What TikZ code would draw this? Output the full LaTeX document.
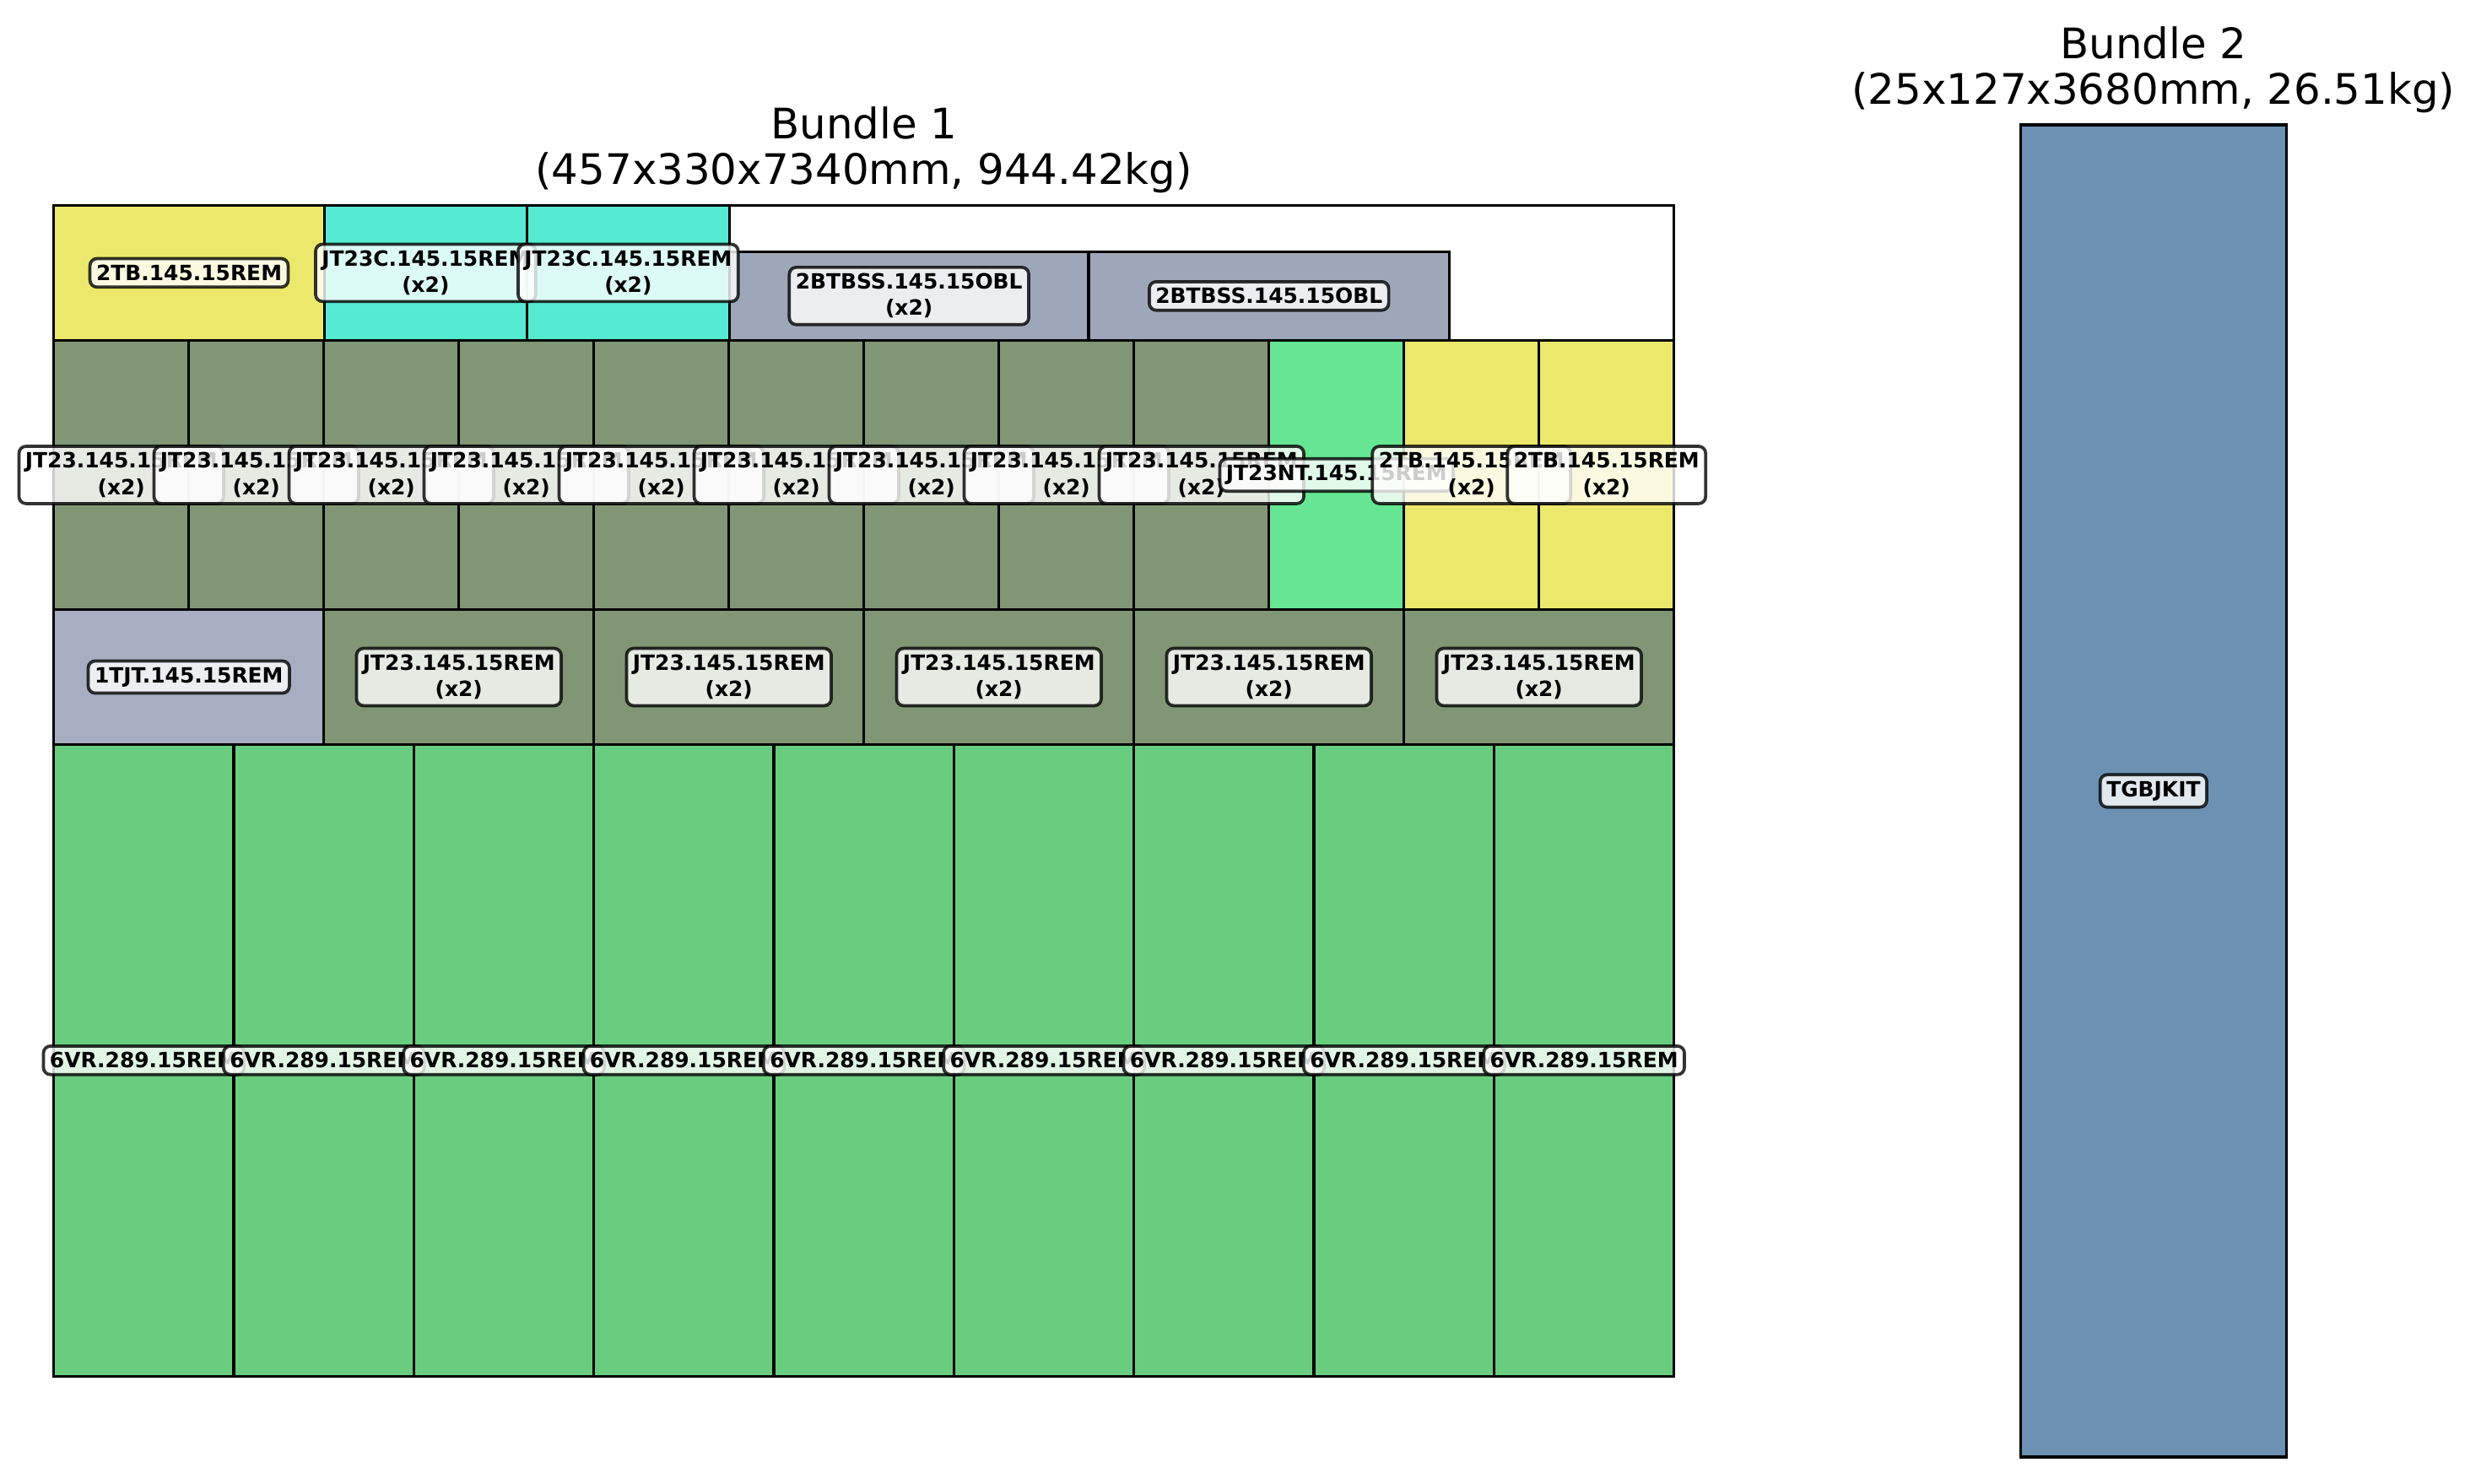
\documentclass[tikz,border=0pt]{standalone}
\usepackage{fontspec}
\setmainfont{DejaVu Sans}
\definecolor{cTB}{RGB}{235,232,108}
\definecolor{cJTC}{RGB}{85,235,210}
\definecolor{cBSS}{RGB}{158,167,185}
\definecolor{cJT}{RGB}{128,150,117}
\definecolor{cNT}{RGB}{102,229,146}
\definecolor{cTJT}{RGB}{168,174,194}
\definecolor{cVR}{RGB}{105,205,128}
\definecolor{cKIT}{RGB}{108,145,179}
\begin{document}
\begin{tikzpicture}[x=0.015875cm,y=-0.015875cm,
  box/.style={draw=black,line width=0.8pt},
  lbl/.style={font=\fontsize{6}{7.5}\selectfont\bfseries, align=center, fill=white, fill opacity=0.8, text opacity=1, draw=black, draw opacity=0.8, line width=0.9pt, rounded corners=2pt, inner sep=1.8pt},
  ttl/.style={font=\fontsize{12}{13}\selectfont, align=center}]
\useasboundingbox (0,0) rectangle (1568,938);
% Bundle 1 outline
\filldraw[box, fill=white] (34,130) rectangle (1058,870);
% top row
\filldraw[box, fill=cTB] (34,130) rectangle (205,215.1);
\filldraw[box, fill=cJTC] (205,130) rectangle (333,215.1);
\filldraw[box, fill=cJTC] (333,130) rectangle (461,215.1);
\filldraw[box, fill=cBSS] (461,159.1) rectangle (688,215.1);
\filldraw[box, fill=cBSS] (688,159.1) rectangle (916,215.1);
% middle row
\foreach \i in {0,...,8} {
  \filldraw[box, fill=cJT] ({34+\i*85.333},215.1) rectangle ({34+(\i+1)*85.333},385.4);
}
\filldraw[box, fill=cNT] (802,215.1) rectangle (887.33,385.4);
\filldraw[box, fill=cTB] (887.33,215.1) rectangle (972.67,385.4);
\filldraw[box, fill=cTB] (972.67,215.1) rectangle (1058,385.4);
% third row
\filldraw[box, fill=cTJT] (34,385.4) rectangle (204.67,470.6);
\foreach \i in {1,...,5} {
  \filldraw[box, fill=cJT] ({34+\i*170.667},385.4) rectangle ({34+(\i+1)*170.667},470.6);
}
% bottom row
\foreach \i in {0,...,8} {
  \filldraw[box, fill=cVR] ({34+\i*113.778},470.6) rectangle ({34+(\i+1)*113.778},870);
}
% Bundle 2
\filldraw[box, fill=cKIT] (1277,79) rectangle (1445,921);
% labels
\node[lbl] (a1) at (119.5,172.5) {2TB.145.15REM};
\node[lbl] (a2) at (269,172.5) {JT23C.145.15REM\\(x2)};
\node[lbl] (a3) at (397,172.5) {JT23C.145.15REM\\(x2)};
\node[lbl] (a4) at (574.5,187.1) {2BTBSS.145.15OBL\\(x2)};
\node[lbl] (a5) at (802,187.1) {2BTBSS.145.15OBL};
\foreach \i in {0,...,8} {
  \node[lbl] (m\i) at ({34+(\i+0.5)*85.333},300.25) {JT23.145.15REM\\(x2)};
}
\node[lbl] (mnt) at (844.67,300.25) {JT23NT.145.15REM};
\node[lbl] (mtb1) at (930,300.25) {2TB.145.15REM\\(x2)};
\node[lbl] (mtb2) at (1015.33,300.25) {2TB.145.15REM\\(x2)};
\node[lbl] (r0) at (119.33,428) {1TJT.145.15REM};
\foreach \i in {1,...,5} {
  \node[lbl] (r\i) at ({34+(\i+0.5)*170.667},428) {JT23.145.15REM\\(x2)};
}
\foreach \i in {0,...,8} {
  \node[lbl] (b\i) at ({34+(\i+0.5)*113.778},670.3) {6VR.289.15REM};
}
\node[lbl] (kit) at (1361,500) {TGBJKIT};
% titles
\node[ttl] (t1) at (546,95) {Bundle 1\\(457x330x7340mm, 944.42kg)};
\node[ttl] (t2) at (1361,44) {Bundle 2\\(25x127x3680mm, 26.51kg)};
\end{tikzpicture}
\end{document}
